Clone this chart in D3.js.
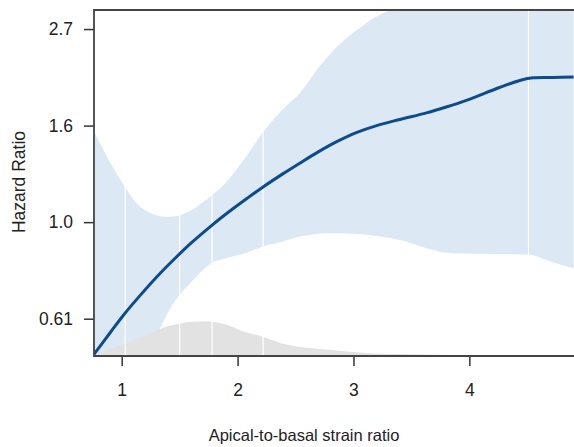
<!DOCTYPE html>
<html lang="en">
<head>
    <meta charset="UTF-8">
    <script src="https://d3js.org/d3.v7.min.js" charset="utf-8"></script>
    <title>Hazard ratio spline</title>
    <style>
        body { margin: 0; background: white; }
        svg text { font-family: "Liberation Sans", Arial, sans-serif; fill: #222; }
    </style>
</head>
<body>
<div id="chart"></div>

<script>
    const width = 574;
    const height = 447;

    // strain ratio grid shared by curve and confidence band
    const ratio = [0.76, 0.9, 1.02, 1.15, 1.3, 1.45, 1.6, 1.77, 1.9, 2.08, 2.22, 2.39, 2.54,
        2.7, 2.86, 3.03, 3.2, 3.4, 3.63, 3.8, 3.98, 4.26, 4.45, 4.55, 4.72, 4.9];
    // hazard ratio estimate
    const hr = [0.504, 0.564, 0.620, 0.680, 0.752, 0.824, 0.898, 0.980, 1.043, 1.130, 1.200, 1.284, 1.359,
        1.441, 1.519, 1.592, 1.649, 1.702, 1.761, 1.815, 1.881, 2.008, 2.088, 2.111, 2.115, 2.121];
    // 95% CI
    const hrLower = [0.247, 0.301, 0.368, 0.449, 0.554, 0.660, 0.733, 0.807, 0.829, 0.854, 0.882, 0.905, 0.928,
        0.942, 0.944, 0.940, 0.931, 0.912, 0.874, 0.854, 0.850, 0.847, 0.846, 0.842, 0.812, 0.787];
    const hrUpper = [1.600, 1.363, 1.209, 1.089, 1.036, 1.030, 1.064, 1.145, 1.228, 1.412, 1.595, 1.795, 1.954,
        2.226, 2.484, 2.705, 2.901, 3.065, 3.25, 3.39, 3.53, 3.74, 3.9, 3.97, 4.1, 4.2];

    // distribution of the ratio (relative density)
    const densX = [0.76, 0.9, 1.02, 1.15, 1.34, 1.5, 1.6, 1.7, 1.8, 1.9, 2.02, 2.22, 2.37, 2.54, 2.83, 3.11, 3.4, 3.83, 4.26, 4.9];
    const densY = [0.058, 0.2, 0.35, 0.52, 0.8, 0.94, 0.99, 1.0, 0.985, 0.91, 0.75, 0.55, 0.38, 0.26, 0.17, 0.09, 0.058, 0.029, 0.015, 0.006];

    // spline knots
    const knots = [1.03, 1.50, 1.78, 2.22, 4.51];

    const xTicks = [1, 2, 3, 4];
    const yTicks = [Math.exp(-0.5), 1, Math.exp(0.5), Math.E];
    const yTickLabels = ["0.61", "1.0", "1.6", "2.7"];

    const margin = {top: 10, left: 94, bottom: 91};
    const plotBottom = height - margin.bottom;

    const svg = d3.select("#chart").append("svg")
        .attr("width", width)
        .attr("height", height);

    const x = d3.scaleLinear()
        .domain([0.761, 4.903])
        .range([margin.left, width]);

    const y = d3.scaleLog()
        .base(Math.E)
        .domain([0.5, 3.0])
        .range([plotBottom, margin.top]);

    const dens = d3.scaleLinear()
        .domain([0, 1])
        .range([plotBottom, plotBottom - 34.5]);

    const smooth = d3.curveCatmullRom.alpha(0.5);

    svg.append("clipPath").attr("id", "plot-clip")
        .append("rect")
        .attr("x", margin.left)
        .attr("y", margin.top)
        .attr("width", width - margin.left)
        .attr("height", plotBottom - margin.top);

    const plot = svg.append("g").attr("clip-path", "url(#plot-clip)");

    // confidence band
    const band = d3.area()
        .x((d, i) => x(ratio[i]))
        .y0((d, i) => y(hrLower[i]))
        .y1((d, i) => y(hrUpper[i]))
        .curve(smooth);

    plot.append("path")
        .attr("d", band(ratio))
        .attr("fill", "#dce8f4");

    // density
    const densArea = d3.area()
        .x((d, i) => x(densX[i]))
        .y0(plotBottom)
        .y1((d, i) => dens(densY[i]))
        .curve(smooth);

    plot.append("path")
        .attr("d", densArea(densX))
        .attr("fill", "#e2e2e2");

    // knot markers
    plot.selectAll("line.knot")
        .data(knots)
        .enter()
        .append("line")
        .attr("class", "knot")
        .attr("x1", d => x(d))
        .attr("x2", d => x(d))
        .attr("y1", margin.top)
        .attr("y2", plotBottom)
        .attr("stroke", "white")
        .attr("stroke-width", 1.2);

    // estimate
    const line = d3.line()
        .x((d, i) => x(ratio[i]))
        .y((d, i) => y(hr[i]))
        .curve(smooth);

    plot.append("path")
        .attr("d", line(ratio))
        .attr("fill", "none")
        .attr("stroke", "#0d4b8c")
        .attr("stroke-width", 3);

    // axes
    const xAxis = svg.append("g")
        .attr("transform", `translate(0,${plotBottom})`)
        .call(d3.axisBottom(x).tickValues(xTicks).tickSize(10).tickPadding(18).tickFormat(d3.format("d")));

    const yAxis = svg.append("g")
        .attr("transform", `translate(${margin.left},0)`)
        .call(d3.axisLeft(y).tickValues(yTicks).tickSize(10).tickPadding(11)
            .tickFormat((d, i) => yTickLabels[i]));

    [xAxis, yAxis].forEach(a => {
        a.select(".domain").remove();
        a.selectAll(".tick line").attr("stroke", "#333").attr("stroke-width", 1.5);
        a.selectAll(".tick text").style("font-size", "17.5px").attr("fill", "#222");
    });

    // frame (top, left, bottom)
    svg.append("path")
        .attr("d", `M${width},${margin.top}H${margin.left}V${plotBottom}H${width}`)
        .attr("fill", "none")
        .attr("stroke", "#444")
        .attr("stroke-width", 1.8);

    svg.append("text")
        .attr("x", 304)
        .attr("y", 441)
        .attr("text-anchor", "middle")
        .style("font-size", "16.5px")
        .text("Apical-to-basal strain ratio");

    svg.append("text")
        .attr("transform", `translate(25,182) rotate(-90)`)
        .attr("text-anchor", "middle")
        .style("font-size", "17.5px")
        .text("Hazard Ratio");
</script>
</body>
</html>
